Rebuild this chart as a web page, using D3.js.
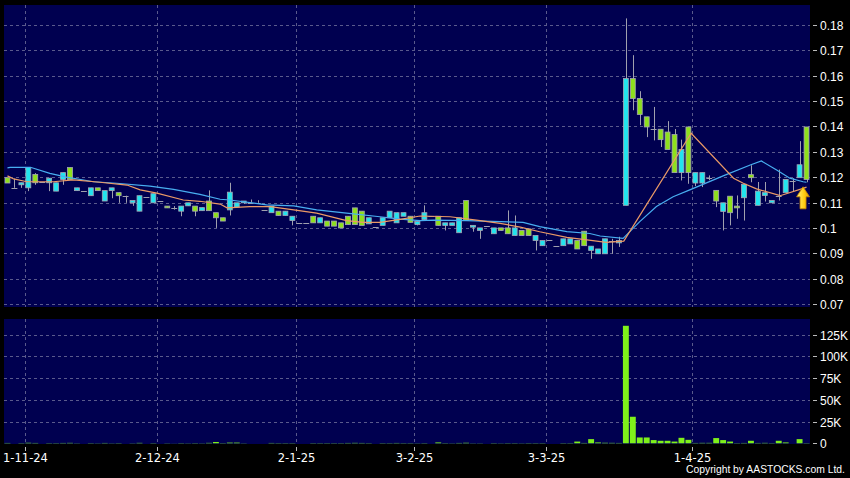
<!DOCTYPE html>
<html><head><meta charset="utf-8">
<script src="https://cdn.jsdelivr.net/npm/d3@7"></script>
<style>html,body{margin:0;padding:0;background:#000;}svg{display:block;}</style>
</head><body>
<svg id="c" width="850" height="478"></svg>
<script>
// ---------------- DATA ----------------
const openP  = [.1198,.1158,.117,.1158,.1211,.118,.1178,.1145,.1191,.1238,.1147,.1147,.1127,.1158,.1106,.1147,.1139,.1127,.1099,.1066,.112,.1099,.1106,.1086,.108,.1066,.1087,.1086,.1068,.1106,.106,.104,.1071,.1082,.1099,.1099,.1099,.1071,.106,.1066,.1049,.1029,.102,.102,.1046,.102,.1027,.1027,.102,.1046,.1079,.1066,.1016,.1003,.101,.104,.102,.1046,.1046,.1013,.1033,.1045,.1046,.101,.101,.0981,.1108,.1003,.099,.1006,.0977,.1,.1,.097,.099,.0996,.095,.093,.0954,.093,.093,.0937,.095,.0987,.0911,.0898,.0898,.095,.0941,.1089,.1589,.151,.1438,.1389,.1389,.1378,.1368,.1218,.1398,.1177,.1177,.1196,.1148,.1065,.1125,.1086,.1119,.121,.1089,.1128,.1099,.1125,.1139,.1185,.1198,.1398];
const highP  = [.1198,.1194,.1178,.1238,.1216,.118,.1196,.1178,.1218,.1238,.1158,.1147,.1158,.1158,.1147,.1158,.1139,.1127,.1108,.1127,.112,.1135,.1106,.1086,.1086,.1086,.1099,.1086,.108,.1148,.106,.104,.1178,.1099,.1106,.1112,.1109,.1071,.1086,.1066,.1066,.1046,.102,.102,.1046,.104,.1027,.1027,.102,.1046,.1079,.1066,.104,.1003,.104,.1066,.106,.106,.1046,.1025,.1089,.1045,.1046,.102,.102,.104,.1108,.101,.1,.1006,.1,.1,.1069,.1049,.099,.0996,.097,.095,.0954,.093,.0957,.0957,.095,.0987,.0928,.0917,.0957,.0957,.0965,.1826,.1681,.1539,.1438,.1477,.1389,.1421,.139,.1348,.1398,.1218,.1218,.1207,.1148,.1099,.1125,.1128,.1172,.1247,.1181,.1181,.1108,.123,.1191,.1196,.1342,.1398];
const lowP   = [.1177,.1158,.1158,.1145,.117,.118,.1145,.1145,.117,.1191,.1147,.1147,.1127,.1147,.1106,.1117,.1099,.1099,.1087,.1066,.112,.1099,.1106,.1079,.1072,.1046,.1087,.1046,.1068,.1068,.1,.1027,.1049,.1082,.1095,.1099,.1099,.1071,.106,.1049,.1049,.101,.102,.102,.102,.102,.1007,.1007,.1,.1013,.1013,.101,.1016,.1003,.101,.104,.102,.1046,.1022,.101,.1033,.1045,.101,.099,.101,.0981,.1029,.0985,.0957,.1006,.0977,.099,.0977,.097,.097,.097,.0911,.093,.0954,.093,.093,.0937,.0917,.093,.0878,.0898,.0898,.0898,.0925,.1089,.1464,.1405,.1358,.1345,.1319,.1309,.1218,.1187,.1174,.1165,.1161,.1188,.1082,.099,.101,.1036,.1029,.118,.1089,.1104,.1099,.1108,.1139,.1144,.1198,.118];
const closeP = [.1177,.1158,.1178,.1238,.1178,.118,.1196,.1178,.1218,.1191,.1158,.1147,.1158,.1147,.1147,.1158,.1127,.1127,.1108,.1127,.112,.1135,.1106,.1079,.108,.1086,.1099,.1066,.108,.1068,.104,.1027,.1141,.1099,.1106,.1099,.1099,.1071,.1086,.1049,.1066,.1046,.102,.102,.102,.104,.1007,.1007,.1,.1013,.1013,.101,.104,.1003,.104,.1066,.106,.106,.1022,.1025,.106,.1045,.101,.102,.102,.104,.1029,.101,.1,.1006,.1,.099,.0977,.1,.097,.097,.097,.095,.0954,.093,.0957,.0957,.0917,.093,.0928,.0917,.0957,.095,.095,.1589,.151,.1447,.1398,.1389,.1348,.1309,.1218,.1309,.1218,.1218,.1218,.1196,.1106,.1099,.106,.1079,.1172,.1198,.1145,.1139,.1108,.1125,.1191,.1185,.1249,.1191];
const volume = [400,0,300,600,400,0,300,300,400,500,200,0,300,200,400,200,300,0,200,500,0,300,0,200,100,300,200,300,200,500,1500,300,800,800,200,0,0,0,400,300,300,300,0,0,300,300,300,300,300,400,500,400,300,0,300,300,400,300,300,200,300,0,1000,300,200,400,600,200,200,0,300,200,300,300,200,300,300,300,0,0,300,300,2000,400,4800,1000,600,500,400,135000,30500,6700,6700,3700,2900,2900,2000,6300,4000,400,500,500,6000,3700,2000,300,400,2900,400,500,300,2900,1000,0,4800,300];
// moving averages as [candle index, value] vertices
const maShort = [[0,.1205],[0.9,.1193],[2.8,.1182],[6.6,.1182],[9.5,.1189],[13.3,.118],[17.2,.1169],[19.1,.115],[21.5,.1137],[25.3,.111],[27.7,.1105],[30.6,.1094],[31.6,.1079],[34.9,.1084],[37.8,.1084],[41.2,.1071],[44.5,.1058],[48.8,.1029],[51.2,.1022],[53.6,.1022],[56.5,.1034],[59.4,.1047],[63.7,.1044],[67.5,.1031],[70.9,.1018],[73.8,.1003],[76.6,.0985],[80.5,.0963],[83.4,.0953],[86.2,.0943],[88.7,.0948],[98.4,.1373],[104.5,.1196],[105.9,.1176],[107.8,.1154],[111.2,.1127],[114.5,.1156],[115,.1161]];
const maLong  = [[0,.1237],[0.4,.1239],[3.3,.1239],[6.1,.1215],[8.5,.12],[12.4,.1182],[15.7,.1176],[20.5,.1165],[23.9,.1152],[27.7,.1132],[30.6,.1113],[32,.111],[37.3,.1091],[41.2,.1087],[44.5,.1071],[48.8,.1058],[53.6,.1044],[56.5,.1035],[59.4,.1029],[61.3,.1031],[66.1,.1029],[70.9,.1025],[74.2,.1022],[76.6,.1005],[80.5,.0985],[83.8,.0978],[85.3,.0968],[88.6,.0959],[91,.1025],[93.4,.1084],[95.8,.1123],[98.2,.115],[103,.1205],[106.9,.1248],[108.5,.1264],[110.7,.1228],[112.6,.1196],[114.5,.1182],[115,.118]];
const priceTicks = [0.07,0.08,0.09,0.1,0.11,0.12,0.13,0.14,0.15,0.16,0.17,0.18];
const priceTickLabels = ["0.07","0.08","0.09","0.1","0.11","0.12","0.13","0.14","0.15","0.16","0.17","0.18"];
const volTicks = [0,25000,50000,75000,100000,125000];
const volTickLabels = ["0","25K","50K","75K","100K","125K"];
const dateIdx = [3,22,42,59,78,99];
const dateLabels = ["1-11-24","2-12-24","2-1-25","3-2-25","3-3-25","1-4-25"];
const arrowValue = 0.1162;
const copyright = "Copyright by AASTOCKS.com Ltd.";

// ---------------- DRAW ----------------
const svg = d3.select("#c");
const N = closeP.length;
const L = 4, R = 810, PT = 5, PB = 307, VT = 319, VB = 444;
const NAVY = "#000050", GRID = "#5a5a8c";
const UP = "#22e4ee", DOWN = "#8ee01c", EDGE = "#a6a6b4", WICK = "#a0a0ae";

svg.append("rect").attr("width",850).attr("height",478).attr("fill","#000");
svg.append("rect").attr("x",L).attr("y",PT).attr("width",R-L).attr("height",PB-PT).attr("fill",NAVY);
svg.append("rect").attr("x",L).attr("y",VT).attr("width",R-L).attr("height",VB-VT).attr("fill",NAVY);

const x = d3.scaleBand().domain(d3.range(N)).range([L,R]).paddingInner(0.15).paddingOuter(0.075);
const step = x.step(), bw = x.bandwidth();
const cx = i => x(Math.floor(i)) + bw/2 + (i-Math.floor(i))*step;
const y = d3.scaleLinear().domain([0.07,0.18]).range([304,25]);
const yv = d3.scaleLinear().domain([0,125000]).range([443.3,334.5]);

const g = svg.append("g");
// horizontal grids
priceTicks.forEach((t,k)=>{
  const yy = Math.round(y(t))+0.5;
  g.append("line").attr("x1",L).attr("x2",R).attr("y1",yy).attr("y2",yy)
    .attr("stroke",GRID).attr("stroke-dasharray","3,3");
  g.append("line").attr("x1",813).attr("x2",817).attr("y1",yy).attr("y2",yy).attr("stroke","#bbb");
  g.append("text").attr("x",820).attr("y",yy+4.5).text(priceTickLabels[k])
    .attr("fill","#fff").attr("font-family","Liberation Sans, Arial, sans-serif").attr("font-size",12);
});
volTicks.forEach((t,k)=>{
  const yy = Math.round(yv(t))+0.5;
  if (t>0) g.append("line").attr("x1",L).attr("x2",R).attr("y1",yy).attr("y2",yy)
    .attr("stroke",GRID).attr("stroke-dasharray","3,3");
  g.append("line").attr("x1",813).attr("x2",817).attr("y1",yy).attr("y2",yy).attr("stroke","#bbb");
  g.append("text").attr("x",820).attr("y",yy+4.5).text(volTickLabels[k])
    .attr("fill","#fff").attr("font-family","Liberation Sans, Arial, sans-serif").attr("font-size",12);
});
// vertical grids + date axis
dateIdx.forEach((di,k)=>{
  const xx = Math.round(x(di) - (step-bw)/2) + 0.5;
  g.append("line").attr("x1",xx).attr("x2",xx).attr("y1",PT).attr("y2",PB).attr("stroke",GRID).attr("stroke-dasharray","3,3");
  g.append("line").attr("x1",xx).attr("x2",xx).attr("y1",VT).attr("y2",VB).attr("stroke",GRID).attr("stroke-dasharray","3,3");
  g.append("line").attr("x1",xx).attr("x2",xx).attr("y1",447).attr("y2",451).attr("stroke","#bbb");
  g.append("text").attr("x",Math.max(xx,21)).attr("y",461.5).attr("text-anchor","middle").text(dateLabels[k])
    .attr("fill","#fff").attr("font-family","DejaVu Sans, sans-serif").attr("font-size",11.5);
});

// volume bars
svg.append("g").selectAll("rect").data(volume).join("rect")
  .attr("x",(d,i)=>x(i)).attr("width",bw)
  .attr("y",d=>yv(d)).attr("height",d=>yv(0)-yv(d))
  .attr("fill","#7ff01a");

// candles
const cg = svg.append("g");
for (let i=0;i<N;i++){
  const o=openP[i], h=highP[i], l=lowP[i], c=closeP[i];
  const mx = Math.round(x(i)+bw/2)+0.5;
  if (h>l) cg.append("line").attr("x1",mx).attr("x2",mx).attr("y1",y(h)).attr("y2",y(l)).attr("stroke",WICK);
  if (o===c){
    cg.append("line").attr("x1",x(i)).attr("x2",x(i)+bw).attr("y1",Math.round(y(o))+0.5).attr("y2",Math.round(y(o))+0.5).attr("stroke",WICK);
  } else {
    const top = y(Math.max(o,c)), bot = y(Math.min(o,c));
    cg.append("rect").attr("x",x(i)+0.5).attr("width",bw-1)
      .attr("y",top).attr("height",Math.max(1,bot-top))
      .attr("fill",c>o?UP:DOWN).attr("stroke",EDGE).attr("stroke-width",0.8);
  }
}

// moving averages
const line = d3.line().x(d=>cx(d[0])).y(d=>y(d[1]));
svg.append("path").attr("d",line(maLong)).attr("fill","none").attr("stroke","#48aef0").attr("stroke-width",1.2);
svg.append("path").attr("d",line(maShort)).attr("fill","none").attr("stroke","#eb9a66").attr("stroke-width",1.2);

// arrow
const defs = svg.append("defs");
const gr = defs.append("linearGradient").attr("id","ag").attr("x1",0).attr("x2",1).attr("y1",0).attr("y2",0);
gr.append("stop").attr("offset","0%").attr("stop-color","#fff27a");
gr.append("stop").attr("offset","60%").attr("stop-color","#ffcc10");
gr.append("stop").attr("offset","100%").attr("stop-color","#e09a00");
const ax = cx(114.5), ay = y(arrowValue);
svg.append("path")
  .attr("d",`M${ax},${ay} L${ax+6.5},${ay+10} L${ax+3},${ay+10} L${ax+3},${ay+22} L${ax-3},${ay+22} L${ax-3},${ay+10} L${ax-6.5},${ay+10} Z`)
  .attr("fill","url(#ag)").attr("stroke","#c88400").attr("stroke-width",0.8);

// copyright
svg.append("text").attr("x",845).attr("y",473).attr("text-anchor","end").text(copyright)
  .attr("textLength",159).attr("lengthAdjust","spacingAndGlyphs")
  .attr("fill","#fff").attr("font-family","Liberation Sans, Arial, sans-serif").attr("font-size",10.5);
</script>
</body></html>
